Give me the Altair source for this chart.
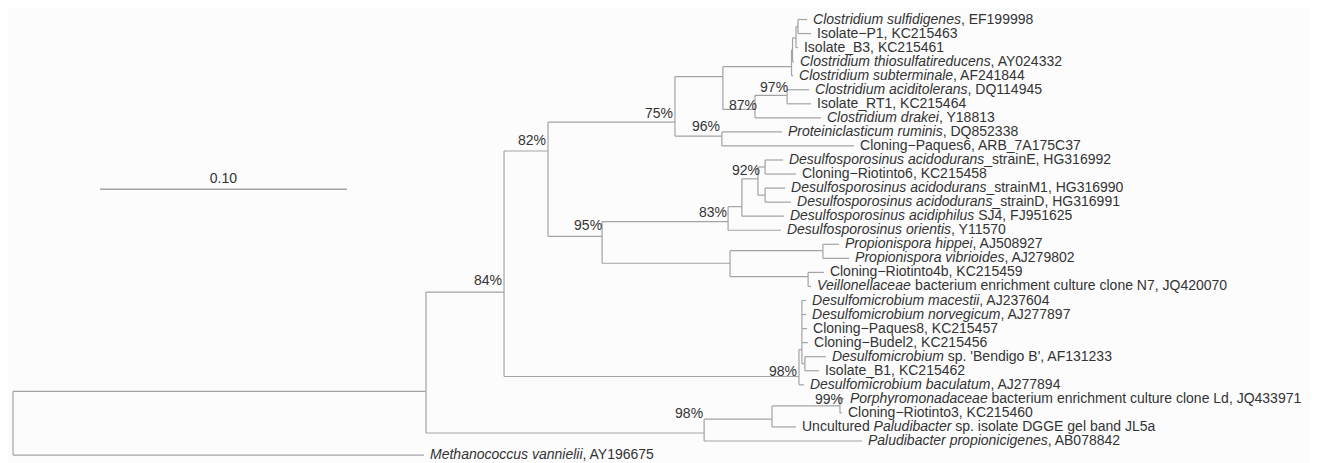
import re
import altair as alt
import pandas as pd

# ---------------- data ----------------
# leaves, top to bottom (row = index); *...* marks italic text
leaf_labels = [
    "*Clostridium sulfidigenes*, EF199998",
    "Isolate\u2212P1, KC215463",
    "Isolate_B3, KC215461",
    "*Clostridium thiosulfatireducens*, AY024332",
    "*Clostridium subterminale*, AF241844",
    "*Clostridium aciditolerans*, DQ114945",
    "Isolate_RT1, KC215464",
    "*Clostridium drakei*, Y18813",
    "*Proteiniclasticum ruminis*, DQ852338",
    "Cloning\u2212Paques6, ARB_7A175C37",
    "*Desulfosporosinus acidodurans*_strainE, HG316992",
    "Cloning\u2212Riotinto6, KC215458",
    "*Desulfosporosinus acidodurans*_strainM1, HG316990",
    "*Desulfosporosinus acidodurans*_strainD, HG316991",
    "*Desulfosporosinus acidiphilus* SJ4, FJ951625",
    "*Desulfosporosinus orientis*, Y11570",
    "*Propionispora hippei*, AJ508927",
    "*Propionispora vibrioides*, AJ279802",
    "Cloning\u2212Riotinto4b, KC215459",
    "*Veillonellaceae* bacterium enrichment culture clone N7, JQ420070",
    "*Desulfomicrobium macestii*, AJ237604",
    "*Desulfomicrobium norvegicum*, AJ277897",
    "Cloning\u2212Paques8, KC215457",
    "Cloning\u2212Budel2, KC215456",
    "*Desulfomicrobium* sp. 'Bendigo B', AF131233",
    "Isolate_B1, KC215462",
    "*Desulfomicrobium baculatum*, AJ277894",
    "*Porphyromonadaceae* bacterium enrichment culture clone Ld, JQ433971",
    "Cloning\u2212Riotinto3, KC215460",
    "Uncultured *Paludibacter* sp. isolate DGGE gel band JL5a",
    "*Paludibacter propionicigenes*, AB078842",
    "*Methanococcus vannielii*, AY196675",
]
leaf_parent = ["Cl4", "Cl4", "Cl3", "Cl2", "Cl1", "I", "I", "H", "G", "G",
               "NE", "NE", "NM", "NM", "Nac", "N83", "NPr", "NPr", "NV", "NV",
               "DmA", "DmA", "DmA", "DmA", "DmB", "DmB", "Dmic", "K", "K", "J",
               "Bact", "R"]
# distance from root (substitutions per site)
leaf_depth = [0.3215, 0.3231, 0.3178, 0.3162, 0.3158, 0.3223, 0.3231, 0.3271,
              0.3113, 0.3405, 0.3117, 0.3170, 0.3126, 0.3150, 0.3121, 0.3109,
              0.3344, 0.3385, 0.3283, 0.3231, 0.3211, 0.3211, 0.3215, 0.3219,
              0.3291, 0.3263, 0.3202, 0.3364, 0.3356, 0.3170, 0.3437, 0.1664]

# internal nodes
node_names = ["R", "A", "B", "C", "D", "F", "Cl1", "Cl2", "Cl3", "Cl4", "H", "I",
              "G", "E", "N83", "Nac", "N92", "NE", "NM", "NP", "NPr", "NV",
              "Dmic", "DmA", "DmB", "Bact", "J", "K"]
node_parent = ["", "R", "A", "B", "C", "D", "F", "Cl1", "Cl2", "Cl3", "F", "H",
               "D", "C", "E", "N83", "Nac", "N92", "N92", "E", "NP", "NP",
               "B", "Dmic", "DmA", "A", "Bact", "J"]
node_depth = [0.0, 0.1672, 0.1988, 0.2166, 0.2680, 0.2874, 0.3152, 0.3156,
              0.3170, 0.3178, 0.3004, 0.3134, 0.2870, 0.2385, 0.2895, 0.2951,
              0.3016, 0.3045, 0.3045, 0.2903, 0.3279, 0.3219, 0.3182, 0.3194,
              0.3206, 0.2798, 0.3073, 0.3348]
node_row = [28.7, 26.47, 19.40, 9.36, 7.31, 4.06, 3.36, 2.16, 1.31, 0.5, 6.4,
            5.4, 8.3, 15.44, 14.38, 13.32, 11.34, 10.5, 12.5, 17.35, 16.45,
            18.3, 25.41, 23.5, 24.5, 29.43, 28.45, 27.5]

# bootstrap support labels (node, text, label depth, label row)
support_node = ["B", "C", "D", "G", "I", "H", "N92", "N83", "E", "Dmic", "Bact", "K"]
support_text = ["84%", "82%", "75%", "96%", "97%", "87%", "92%", "83%", "95%",
                "98%", "98%", "99%"]
support_depth = [0.1980, 0.2158, 0.2672, 0.2862, 0.3138, 0.3012, 0.3024, 0.2891,
                 0.2385, 0.3174, 0.2794, 0.3360]
support_row = [18.62, 8.66, 6.75, 7.67, 4.84, 6.18, 10.78, 13.75, 14.73, 25.12,
               28.09, 27.05]

scalebar_len = 0.10
scalebar_start = 0.0352
scalebar_row = 12.08
scalebar_label_row = 11.34
scalebar_text = "0.10"

# ---------------- layout ----------------
W, H = 1302, 455
PX = 2470.0      # pixels per substitution unit
ROWPX = 14.05    # pixels per leaf row
FS = 14
GAP = 6.0
LINE = "#a3a3a3"
TXT = "#333333"
FONT = "Liberation Sans"

x_scale = alt.Scale(domain=[-5 / PX, (W - 5) / PX], nice=False, zero=False)
y_scale = alt.Scale(domain=[-11.5 / ROWPX, (H - 11.5) / ROWPX], nice=False,
                    zero=False, reverse=True)

# ---------------- build tree segments ----------------
pos = {}
for n, d, r in zip(node_names, node_depth, node_row):
    pos[n] = (d, r)
children = {n: [] for n in node_names}
segs = []
for i, (p, d) in enumerate(zip(leaf_parent, leaf_depth)):
    children[p].append(float(i))
    segs.append(dict(x=pos[p][0], x2=d, y=float(i), y2=float(i)))
for n, p in zip(node_names, node_parent):
    if p:
        children[p].append(pos[n][1])
        segs.append(dict(x=pos[p][0], x2=pos[n][0], y=pos[n][1], y2=pos[n][1]))
for n in node_names:
    rows = children[n]
    segs.append(dict(x=pos[n][0], x2=pos[n][0], y=min(rows), y2=max(rows)))
seg_df = pd.DataFrame(segs)

# Helvetica/Arial advance widths (1/1000 em)
HW = {' ': 278, ',': 278, '.': 278, "'": 191, '_': 556, '-': 333, '\u2212': 584,
      'A': 667, 'B': 667, 'C': 722, 'D': 722, 'E': 667, 'F': 611, 'G': 778,
      'H': 722, 'I': 278, 'J': 500, 'K': 667, 'L': 556, 'M': 833, 'N': 722,
      'O': 778, 'P': 667, 'Q': 778, 'R': 722, 'S': 667, 'T': 611, 'U': 722,
      'V': 667, 'W': 944, 'X': 667, 'Y': 667, 'Z': 611,
      'a': 556, 'b': 556, 'c': 500, 'd': 556, 'e': 556, 'f': 278, 'g': 556,
      'h': 556, 'i': 222, 'j': 222, 'k': 500, 'l': 222, 'm': 833, 'n': 556,
      'o': 556, 'p': 556, 'q': 556, 'r': 333, 's': 500, 't': 278, 'u': 556,
      'v': 500, 'w': 722, 'x': 500, 'y': 500, 'z': 500}


def tw(s):
    return sum(HW.get(c, 556) for c in s) * FS / 1000.0


txt_rows = []
for i, (lab, d) in enumerate(zip(leaf_labels, leaf_depth)):
    parts = re.split(r"(\*[^*]+\*)", lab)
    off = GAP
    for part in parts:
        if not part:
            continue
        ital = part.startswith("*")
        s = part.strip("*")
        lead = len(s) - len(s.lstrip(" "))
        off += tw(s[:lead])
        s2 = s.lstrip(" ")
        txt_rows.append(dict(x=d + off / PX, y=float(i), t=s2, it=ital))
        off += tw(s2)
txt_df = pd.DataFrame(txt_rows)

sup_df = pd.DataFrame(dict(x=support_depth, y=support_row, t=support_text))
bar_df = pd.DataFrame(dict(x=[scalebar_start], x2=[scalebar_start + scalebar_len],
                           y=[scalebar_row], y2=[scalebar_row]))
bar_lab = pd.DataFrame(dict(x=[scalebar_start + scalebar_len / 2],
                            y=[scalebar_label_row], t=[scalebar_text]))

X = lambda: alt.X("x:Q", scale=x_scale, axis=None)
Y = lambda: alt.Y("y:Q", scale=y_scale, axis=None)

branches = alt.Chart(seg_df).mark_rule(color=LINE, strokeWidth=1.2).encode(
    x=X(), x2="x2:Q", y=Y(), y2="y2:Q")
bar = alt.Chart(bar_df).mark_rule(color=LINE, strokeWidth=1.4).encode(
    x=X(), x2="x2:Q", y=Y(), y2="y2:Q")

ital = alt.Chart(txt_df[txt_df.it]).mark_text(
    align="left", baseline="middle", font=FONT, fontSize=FS, fontStyle="italic",
    color=TXT).encode(x=X(), y=Y(), text="t:N")
norm = alt.Chart(txt_df[~txt_df.it]).mark_text(
    align="left", baseline="middle", font=FONT, fontSize=FS,
    color=TXT).encode(x=X(), y=Y(), text="t:N")
sup = alt.Chart(sup_df).mark_text(
    align="right", baseline="middle", font=FONT, fontSize=FS,
    color=TXT).encode(x=X(), y=Y(), text="t:N")
barl = alt.Chart(bar_lab).mark_text(
    align="center", baseline="middle", font=FONT, fontSize=FS,
    color=TXT).encode(x=X(), y=Y(), text="t:N")

chart = alt.layer(branches, bar, ital, norm, sup, barl).properties(
    width=W, height=H, padding=0,
    autosize=alt.AutoSizeParams(type="none"),
    background="#fcfcfc",
).configure_view(stroke=None)

chart.save("out.html", embed_options={"renderer": "svg", "actions": False})
